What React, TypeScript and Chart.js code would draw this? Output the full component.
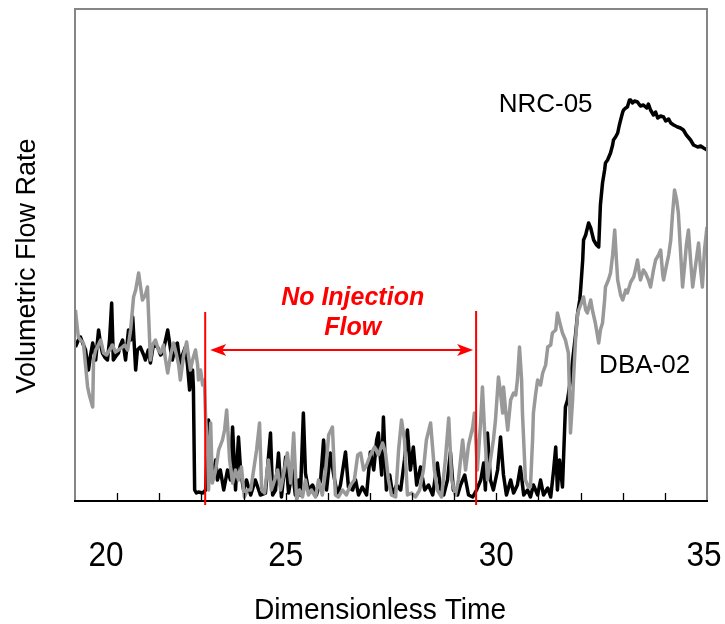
import { useEffect, useRef } from "react";
import { Chart, registerables } from "chart.js";

Chart.register(...registerables);

// NRC-05 (black) – dimensionless time and flow rate (arbitrary units)
const nrcTime = [
  20.01, 20.08, 20.13, 20.2, 20.25, 20.32, 20.37, 20.42, 20.49, 20.56, 20.61, 20.65, 20.72, 20.77, 20.82, 20.87,
  20.91, 20.99, 21.03, 21.08, 21.13, 21.2, 21.27, 21.32, 21.37, 21.44, 21.48, 21.55, 21.63, 21.67, 21.74, 21.79,
  21.86, 21.96, 22.03, 22.08, 22.15, 22.2, 22.27, 22.31, 22.39, 22.43, 22.5, 22.55, 22.62, 22.67, 22.72, 22.77,
  22.79, 22.81, 22.84, 22.88, 22.93, 23.03, 23.1, 23.17, 23.22, 23.26, 23.34, 23.38, 23.45, 23.53, 23.62, 23.69,
  23.74, 23.81, 23.88, 23.93, 24.0, 24.07, 24.17, 24.28, 24.4, 24.52, 24.64, 24.69, 24.76, 24.83, 24.9, 25.0,
  25.07, 25.16, 25.23, 25.31, 25.35, 25.42, 25.47, 25.54, 25.64, 25.73, 25.83, 25.9, 25.97, 26.06, 26.14, 26.23,
  26.3, 26.42, 26.49, 26.59, 26.66, 26.73, 26.82, 26.92, 27.01, 27.09, 27.16, 27.2, 27.28, 27.32, 27.39, 27.47,
  27.54, 27.63, 27.73, 27.82, 27.89, 27.96, 28.03, 28.11, 28.2, 28.3, 28.39, 28.49, 28.6, 28.68, 28.75, 28.84,
  28.91, 28.98, 29.08, 29.15, 29.25, 29.34, 29.44, 29.53, 29.63, 29.7, 29.74, 29.79, 29.86, 29.93, 30.03, 30.1,
  30.17, 30.24, 30.34, 30.41, 30.5, 30.57, 30.65, 30.74, 30.81, 30.88, 30.98, 31.05, 31.12, 31.22, 31.29, 31.36,
  31.41, 31.45, 31.5, 31.57, 31.64, 31.69, 31.76, 31.83, 31.88, 31.93, 31.98, 32.0, 32.05, 32.07, 32.12, 32.19,
  32.24, 32.31, 32.38, 32.43, 32.47, 32.52, 32.57, 32.59, 32.64, 32.71, 32.76, 32.78, 32.83, 32.88, 32.92, 32.95,
  33.0, 33.02, 33.07, 33.11, 33.16, 33.19, 33.23, 33.28, 33.35, 33.42, 33.49, 33.57, 33.61, 33.66, 33.73, 33.78,
  33.83, 33.9, 33.97, 34.02, 34.09, 34.14, 34.21, 34.3, 34.37, 34.44, 34.51, 34.61, 34.68, 34.78, 34.85, 34.92,
  35.0,
];
const nrcFlow = [
  154, 161, 164, 156, 151, 131, 146, 158, 141, 171, 156, 148, 143, 141, 161, 198,
  141, 146, 148, 156, 161, 141, 171, 161, 184, 131, 151, 154, 146, 141, 151, 138,
  156, 154, 146, 148, 161, 171, 151, 141, 156, 158, 134, 146, 154, 136, 111, 129,
  131, 114, 11, 8, 9, 8, 11, 81, 31, 24, 41, 21, 31, 11, 31, 21,
  74, 11, 64, 31, 11, 21, 6, 21, 6, 8, 68, 6, 11, 48, 4, 44,
  8, 31, 6, 21, 6, 88, 28, 11, 16, 6, 21, 61, 11, 48, 26, 6,
  16, 49, 14, 11, 21, 6, 14, 6, 49, 31, 61, 68, 26, 84, 11, 26,
  6, 16, 11, 41, 71, 31, 54, 16, 34, 11, 16, 6, 38, 11, 6, 21,
  49, 11, 6, 16, 26, 6, 4, 11, 21, 38, 11, 68, 21, 11, 31, 64,
  26, 6, 21, 8, 16, 34, 6, 11, 4, 16, 6, 21, 6, 13, 4, 31,
  54, 11, 41, 14, 94, 101, 121, 148, 166, 188, 201, 211, 241, 261, 266, 278,
  273, 261, 256, 254, 296, 318, 331, 338, 341, 348, 356, 361, 364, 368, 376, 381,
  389, 391, 393, 394, 401, 401, 398, 400, 399, 395, 396, 393, 397, 391, 386, 389,
  383, 385, 384, 380, 382, 378, 376, 374, 373, 371, 366, 361, 356, 354, 355, 353,
  351,
];

// DBA-02 (grey)
const dbaTime = [
  20.01, 20.06, 20.08, 20.13, 20.2, 20.25, 20.3, 20.34, 20.42, 20.44, 20.49, 20.53, 20.61, 20.68, 20.75, 20.82,
  20.89, 20.96, 21.03, 21.1, 21.18, 21.25, 21.32, 21.39, 21.44, 21.51, 21.55, 21.6, 21.67, 21.72, 21.79, 21.84,
  21.91, 21.98, 22.03, 22.1, 22.15, 22.2, 22.27, 22.34, 22.41, 22.46, 22.5, 22.58, 22.65, 22.69, 22.74, 22.79,
  22.86, 22.91, 22.93, 22.98, 23.03, 23.07, 23.1, 23.15, 23.17, 23.22, 23.26, 23.34, 23.41, 23.5, 23.55, 23.6,
  23.67, 23.74, 23.81, 23.88, 23.95, 24.02, 24.09, 24.17, 24.24, 24.31, 24.38, 24.43, 24.5, 24.59, 24.66, 24.74,
  24.81, 24.88, 24.97, 25.04, 25.12, 25.19, 25.26, 25.33, 25.4, 25.47, 25.54, 25.61, 25.71, 25.78, 25.87, 25.95,
  26.02, 26.11, 26.18, 26.25, 26.35, 26.44, 26.54, 26.63, 26.71, 26.78, 26.85, 26.92, 27.01, 27.11, 27.2, 27.3,
  27.37, 27.44, 27.51, 27.61, 27.68, 27.75, 27.82, 27.89, 27.99, 28.08, 28.18, 28.27, 28.34, 28.44, 28.53, 28.6,
  28.7, 28.79, 28.87, 28.94, 29.03, 29.1, 29.2, 29.27, 29.34, 29.44, 29.48, 29.55, 29.63, 29.67, 29.72, 29.79,
  29.86, 29.93, 29.98, 30.05, 30.1, 30.15, 30.17, 30.22, 30.27, 30.34, 30.41, 30.46, 30.5, 30.55, 30.6, 30.62,
  30.67, 30.69, 30.76, 30.81, 30.86, 30.88, 30.93, 30.98, 31.05, 31.1, 31.17, 31.22, 31.29, 31.33, 31.41, 31.45,
  31.52, 31.57, 31.64, 31.71, 31.76, 31.81, 31.83, 31.88, 31.93, 32.0, 32.07, 32.12, 32.16, 32.24, 32.28, 32.35,
  32.43, 32.47, 32.52, 32.57, 32.59, 32.66, 32.71, 32.76, 32.81, 32.85, 32.88, 32.95, 33.0, 33.07, 33.11, 33.19,
  33.26, 33.3, 33.35, 33.4, 33.42, 33.49, 33.54, 33.61, 33.66, 33.73, 33.78, 33.85, 33.9, 33.95, 33.97, 34.04,
  34.09, 34.14, 34.18, 34.23, 34.28, 34.32, 34.37, 34.42, 34.47, 34.51, 34.56, 34.61, 34.66, 34.73, 34.8, 34.85,
  34.89, 34.94, 35.0,
];
const dbaFlow = [
  191, 171, 164, 161, 158, 136, 114, 106, 94, 141, 151, 154, 161, 148, 146, 151,
  156, 149, 151, 153, 156, 151, 171, 204, 211, 228, 216, 201, 206, 214, 141, 156,
  161, 151, 148, 156, 141, 128, 146, 158, 146, 136, 121, 146, 159, 146, 131, 141,
  151, 136, 121, 131, 116, 121, 84, 48, 11, 78, 18, 31, 51, 61, 71, 91,
  41, 18, 31, 21, 34, 4, 11, 11, 31, 51, 78, 11, 8, 41, 11, 21,
  31, 11, 31, 48, 18, 68, 1, 11, 4, 21, 6, 11, 4, 21, 6, 31,
  66, 74, 6, 4, 11, 6, 16, 21, 46, 48, 31, 36, 46, 54, 46, 58,
  48, 21, 6, 4, 51, 81, 61, 6, 8, 4, 11, 31, 61, 78, 31, 11,
  4, 41, 83, 21, 6, 21, 61, 31, 56, 74, 88, 31, 81, 114, 71, 21,
  41, 61, 81, 124, 108, 88, 114, 91, 71, 101, 108, 106, 121, 154, 121, 88,
  41, 21, 14, 14, 61, 88, 106, 121, 116, 128, 136, 154, 156, 168, 171, 188,
  176, 168, 161, 148, 68, 101, 121, 161, 188, 196, 204, 191, 188, 201, 191, 178,
  158, 171, 178, 201, 214, 221, 228, 246, 271, 241, 221, 206, 201, 211, 208, 219,
  224, 231, 241, 226, 221, 231, 228, 221, 214, 231, 241, 246, 251, 226, 221, 236,
  246, 261, 286, 311, 301, 288, 251, 214, 236, 256, 271, 241, 214, 236, 258, 231,
  214, 251, 274,
];

const xMajorTicks = [20, 25, 30, 35];
const xMinorTicks = [21, 22, 23, 24, 25, 26, 27, 28, 29, 30, 31, 32, 33, 34];
const noFlowStart = 23.09;
const noFlowEnd = 29.52;

const FONT = '"Liberation Sans", Arial, sans-serif';

const overlayPlugin = {
  id: "overlay",
  afterDatasetsDraw(chart: any) {
    const { ctx, chartArea: a, scales } = chart;
    const x = scales.x;
    const y = scales.y;
    ctx.save();

    // frame (grey left/top/right)
    ctx.strokeStyle = "#858585";
    ctx.lineWidth = 2;
    ctx.beginPath();
    ctx.moveTo(a.left, a.bottom);
    ctx.lineTo(a.left, a.top);
    ctx.lineTo(a.right, a.top);
    ctx.lineTo(a.right, a.bottom);
    ctx.stroke();

    // bottom axis
    ctx.strokeStyle = "#000";
    ctx.lineWidth = 2;
    ctx.beginPath();
    ctx.moveTo(a.left - 1, a.bottom);
    ctx.lineTo(a.right + 1, a.bottom);
    ctx.stroke();

    // inward tick marks
    ctx.lineWidth = 1.3;
    ctx.beginPath();
    for (const v of xMinorTicks) {
      const px = Math.round(x.getPixelForValue(v)) + 0.5;
      ctx.moveTo(px, a.bottom);
      ctx.lineTo(px, a.bottom - 8);
    }
    ctx.stroke();

    // tick labels (slightly condensed, first label nudged inside)
    ctx.fillStyle = "#000";
    ctx.font = `35px ${FONT}`;
    ctx.textAlign = "center";
    ctx.textBaseline = "alphabetic";
    for (const v of xMajorTicks) {
      let px = x.getPixelForValue(v);
      if (v === xMajorTicks[0]) px += 31;
      if (v === xMajorTicks[xMajorTicks.length - 1]) px -= 3;
      ctx.save();
      ctx.translate(px, a.bottom + 65);
      ctx.scale(0.9, 1);
      ctx.fillText(String(v), 0, 0);
      ctx.restore();
    }

    // axis titles
    ctx.font = `29px ${FONT}`;
    ctx.save();
    ctx.translate(380, a.bottom + 118);
    ctx.scale(0.97, 1);
    ctx.fillText("Dimensionless Time", 0, 0);
    ctx.restore();
    ctx.save();
    ctx.translate(35, 266);
    ctx.rotate(-Math.PI / 2);
    ctx.font = `27px ${FONT}`;
    ctx.fillText("Volumetric Flow Rate", 0, 0);
    ctx.restore();

    // series labels
    ctx.font = `26px ${FONT}`;
    ctx.fillText("NRC-05", x.getPixelForValue(31.17), y.getPixelForValue(389));
    ctx.fillText("DBA-02", x.getPixelForValue(33.52), y.getPixelForValue(128));

    // no-injection annotation
    ctx.strokeStyle = "#ff0000";
    ctx.fillStyle = "#ff0000";
    ctx.lineWidth = 2;
    const xs = x.getPixelForValue(noFlowStart);
    const xe = x.getPixelForValue(noFlowEnd);
    ctx.beginPath();
    ctx.moveTo(xs, y.getPixelForValue(189));
    ctx.lineTo(xs, a.bottom + 4);
    ctx.moveTo(xe, y.getPixelForValue(190));
    ctx.lineTo(xe, a.bottom + 4);
    ctx.stroke();

    const ay = y.getPixelForValue(151);
    const l = xs + 5;
    const r = xe - 3;
    ctx.beginPath();
    ctx.moveTo(l + 10, ay);
    ctx.lineTo(r - 10, ay);
    ctx.stroke();
    ctx.beginPath();
    ctx.moveTo(l, ay);
    ctx.lineTo(l + 16, ay - 6);
    ctx.lineTo(l + 12, ay);
    ctx.lineTo(l + 16, ay + 6);
    ctx.closePath();
    ctx.fill();
    ctx.beginPath();
    ctx.moveTo(r, ay);
    ctx.lineTo(r - 16, ay - 6);
    ctx.lineTo(r - 12, ay);
    ctx.lineTo(r - 16, ay + 6);
    ctx.closePath();
    ctx.fill();

    ctx.font = `italic bold 25px ${FONT}`;
    const tx = x.getPixelForValue(26.59);
    ctx.fillText("No Injection", tx, y.getPixelForValue(196));
    ctx.fillText("Flow", tx, y.getPixelForValue(166));

    ctx.restore();
  },
};

export default function App() {
  const ref = useRef<HTMLCanvasElement>(null);

  useEffect(() => {
    if (!ref.current) return;
    const chart = new Chart(ref.current, {
      type: "line",
      data: {
        datasets: [
          {
            label: "NRC-05",
            data: nrcTime.map((t, i) => ({ x: t, y: nrcFlow[i] })),
            borderColor: "#000000",
            borderWidth: 3.5,
            pointRadius: 0,
            tension: 0,
            borderJoinStyle: "round",
            order: 2,
          },
          {
            label: "DBA-02",
            data: dbaTime.map((t, i) => ({ x: t, y: dbaFlow[i] })),
            borderColor: "#999999",
            borderWidth: 3.5,
            pointRadius: 0,
            tension: 0,
            borderJoinStyle: "round",
            order: 1,
          },
        ],
      },
      options: {
        animation: false,
        responsive: false,
        devicePixelRatio: 1,
        layout: { padding: { left: 75, right: 18, top: 9, bottom: 123 } },
        plugins: { legend: { display: false }, tooltip: { enabled: false } },
        scales: {
          x: { type: "linear", min: 20, max: 35, display: false },
          y: { type: "linear", min: 0, max: 492, display: false },
        },
      },
      plugins: [overlayPlugin],
    });
    return () => chart.destroy();
  }, []);

  return (
    <div style={{ position: "absolute", left: 0, top: 0, width: 725, height: 624, background: "#fff" }}>
      <canvas ref={ref} width={725} height={624} style={{ display: "block" }} />
    </div>
  );
}
